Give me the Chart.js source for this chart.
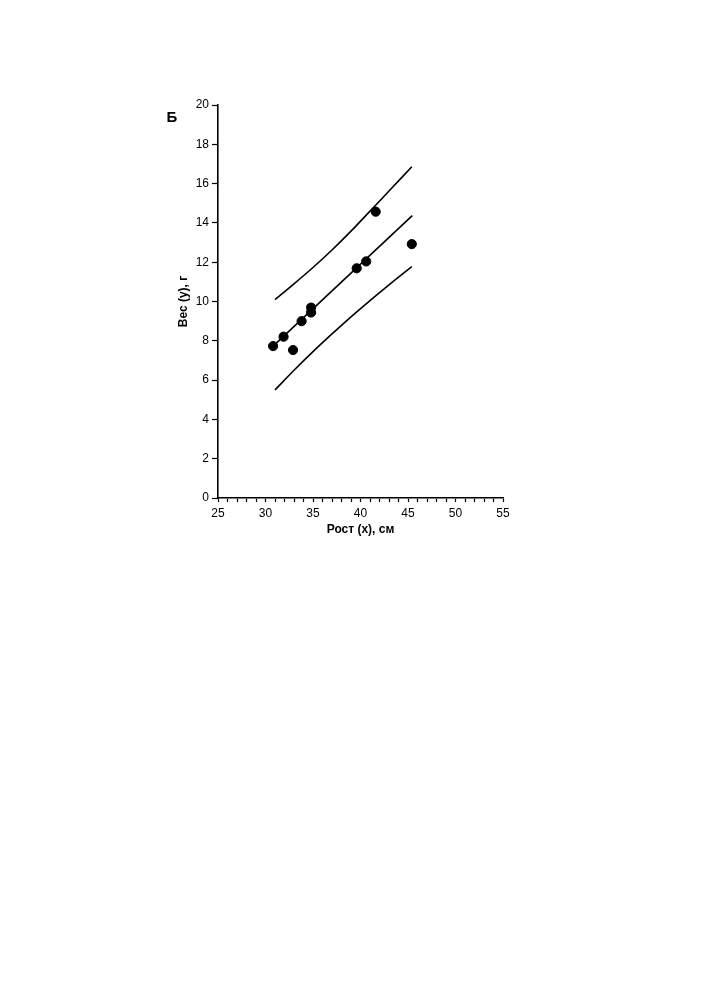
<!DOCTYPE html>
<html>
<head>
<meta charset="utf-8">
<script src="https://cdn.jsdelivr.net/npm/chart.js@4"></script>
<style>
  html, body { margin: 0; padding: 0; background: #fff; }
  #wrap { position: absolute; left: 0; top: 0; width: 705px; height: 1000px; }
</style>
</head>
<body>
<div id="wrap"><canvas id="chart" width="705" height="1000"></canvas></div>
<script>
// measured points: height (x, cm) and weight (y, g)
const heights = [30.8, 31.9, 32.9, 33.8, 34.8, 34.8, 39.6, 40.6, 41.6, 45.4];
const weights = [7.73, 8.21, 7.53, 9.0, 9.69, 9.44, 11.69, 12.04, 14.57, 12.92];

// regression line ends
const lineX = [30.8, 45.45];
const lineY = [7.73, 14.37];

// upper and lower bands
const upperX = [31, 33, 35, 37, 39, 41, 43, 45.4];
const upperY = [10.1, 10.9, 11.73, 12.62, 13.58, 14.6, 15.62, 16.86];
const lowerX = [31, 33, 35, 37, 39, 41, 43, 45.4];
const lowerY = [5.5, 6.5, 7.45, 8.35, 9.22, 10.05, 10.85, 11.78];

const xTicks = [25, 30, 35, 40, 45, 50, 55];
const yTicks = [0, 2, 4, 6, 8, 10, 12, 14, 16, 18, 20];

const pairs = (xs, ys) => xs.map((x, i) => ({ x: x, y: ys[i] }));

const FONT = "'Liberation Sans', Arial, Helvetica, sans-serif";

// panel letter in the upper left corner
const panelLetter = {
    id: 'panelLetter',
    afterDraw(chart) {
        const { ctx, chartArea } = chart;
        ctx.save();
        ctx.fillStyle = '#000';
        ctx.font = "bold 15px " + FONT;
        ctx.textAlign = 'center';
        ctx.textBaseline = 'middle';
        ctx.fillText('Б', chartArea.left - 46, chartArea.top + 13);
        ctx.restore();
    }
};

const lineStyle = {
    type: 'line',
    borderColor: '#000',
    borderWidth: 1.6,
    pointRadius: 0,
    fill: false
};

new Chart(document.getElementById('chart'), {
    type: 'scatter',
    data: {
        datasets: [
            {
                label: 'points',
                data: pairs(heights, weights),
                backgroundColor: '#000',
                borderColor: '#000',
                pointRadius: 4.6,
                pointHoverRadius: 4.6
            },
            { ...lineStyle, label: 'fit', data: pairs(lineX, lineY) },
            { ...lineStyle, label: 'upper', data: pairs(upperX, upperY), cubicInterpolationMode: 'monotone' },
            { ...lineStyle, label: 'lower', data: pairs(lowerX, lowerY), cubicInterpolationMode: 'monotone' }
        ]
    },
    options: {
        responsive: false,
        animation: false,
        layout: { padding: { left: 158, right: 202, top: 105, bottom: 457 } },
        plugins: {
            legend: { display: false },
            tooltip: { enabled: false }
        },
        scales: {
            x: {
                type: 'linear',
                min: 25,
                max: 55,
                afterFit(s) { s.height = 45; },
                afterBuildTicks(s) {
                    const t = [];
                    for (let v = 25; v <= 55; v++) t.push({ value: v });
                    s.ticks = t;
                },
                ticks: {
                    autoSkip: false,
                    maxRotation: 0,
                    padding: 4,
                    color: '#000',
                    font: { family: FONT, size: 12 },
                    callback: (v) => xTicks.includes(v) ? String(v) : ''
                },
                grid: {
                    drawOnChartArea: false,
                    drawTicks: true,
                    tickLength: 4,
                    tickColor: '#000',
                    tickWidth: 1.2
                },
                border: { display: true, color: '#000', width: 1.6 },
                title: {
                    display: true,
                    text: 'Рост (x), см',
                    color: '#000',
                    font: { family: FONT, size: 12, weight: 'bold' },
                    padding: { top: 0, bottom: 6 }
                }
            },
            y: {
                type: 'linear',
                min: 0,
                max: 20,
                afterFit(s) { s.width = 60; },
                afterBuildTicks(s) {
                    s.ticks = yTicks.map(v => ({ value: v }));
                },
                ticks: {
                    padding: 3,
                    color: '#000',
                    font: { family: FONT, size: 12 }
                },
                grid: {
                    drawOnChartArea: false,
                    drawTicks: true,
                    tickLength: 6,
                    tickColor: '#000',
                    tickWidth: 1.2
                },
                border: { display: true, color: '#000', width: 1.6 },
                title: {
                    display: true,
                    text: 'Вес (y), г',
                    color: '#000',
                    font: { family: FONT, size: 12, weight: 'bold' },
                    padding: { top: 18, bottom: 0 }
                }
            }
        }
    },
    plugins: [panelLetter]
});
</script>
</body>
</html>
